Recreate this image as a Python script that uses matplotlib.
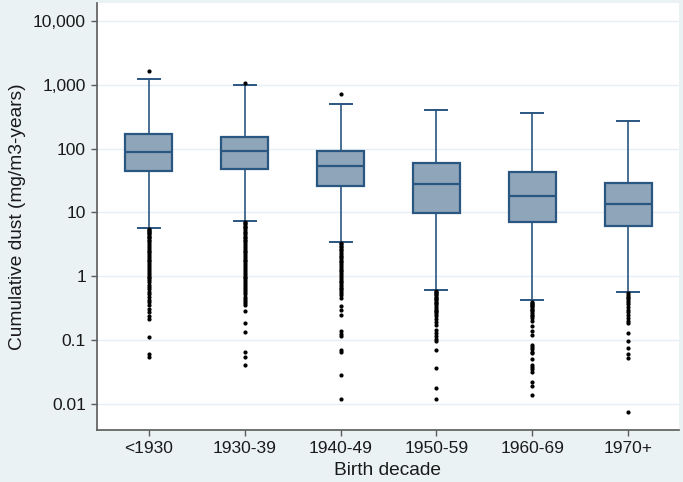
import matplotlib
matplotlib.use("Agg")
import matplotlib.pyplot as plt
from matplotlib.ticker import FixedLocator, NullLocator

plt.rcParams['font.family'] = ['Liberation Sans', 'DejaVu Sans']

categories = ["<1930", "1930-39", "1940-49", "1950-59", "1960-69", "1970+"]
q1 = [45.0, 47.5, 25.5, 9.75, 6.98, 6.17]
medians = [87.5, 92.0, 53.5, 27.4, 18.2, 13.3]
q3 = [171.0, 154.0, 90.8, 58.3, 43.0, 28.7]
whisker_low = [5.7, 7.3, 3.43, 0.60, 0.416, 0.555]
whisker_high = [1210.0, 1000.0, 492.0, 401.0, 360.0, 267.0]

outliers_1 = [1620, 5.5, 5.3, 5.1, 4.9, 4.7, 4.5, 4.3, 4.1, 3.9, 3.7, 3.5, 3.3, 3.1, 2.9,
              2.7, 2.5, 2.35, 2.2, 2.05, 1.9, 1.8, 1.7, 1.6, 1.5, 1.4, 1.3, 1.2, 1.12,
              1.05, 0.98, 0.92, 0.86, 0.8, 0.74, 0.68, 0.62, 0.57, 0.52, 0.47, 0.43,
              0.39, 0.35, 0.31, 0.27, 0.24, 0.21, 0.111, 0.061, 0.055]
outliers_2 = [1060, 7.1, 6.8, 6.5, 6.2, 5.9, 5.6, 5.3, 5.0, 4.7, 4.4, 4.1, 3.9, 3.7, 3.5,
              3.3, 3.1, 2.9, 2.7, 2.5, 2.35, 2.2, 2.05, 1.9, 1.8, 1.7, 1.6, 1.5, 1.4,
              1.3, 1.2, 1.12, 1.05, 0.98, 0.92, 0.86, 0.8, 0.75, 0.7, 0.65, 0.6, 0.56,
              0.52, 0.48, 0.44, 0.41, 0.38, 0.356, 0.28, 0.188, 0.135, 0.066, 0.054,
              0.041]
outliers_3 = [713, 3.3, 3.15, 3.0, 2.85, 2.7, 2.55, 2.4, 2.25, 2.1, 1.98, 1.86, 1.75,
              1.64, 1.54, 1.45, 1.36, 1.27, 1.19, 1.11, 1.04, 0.97, 0.91, 0.85, 0.8,
              0.75, 0.7, 0.66, 0.62, 0.58, 0.54, 0.5, 0.46, 0.335, 0.30, 0.25, 0.136,
              0.125, 0.114, 0.069, 0.064, 0.028, 0.012]
outliers_4 = [0.58, 0.56, 0.54, 0.52, 0.5, 0.48, 0.46, 0.44, 0.42, 0.4, 0.38, 0.36, 0.34,
              0.32, 0.3, 0.285, 0.27, 0.255, 0.24, 0.21, 0.19, 0.17, 0.145, 0.13, 0.115,
              0.105, 0.095, 0.069, 0.037, 0.018, 0.012]
outliers_5 = [0.40, 0.385, 0.37, 0.355, 0.34, 0.325, 0.31, 0.295, 0.28, 0.265, 0.25,
              0.235, 0.22, 0.2, 0.163, 0.14, 0.118, 0.084, 0.078, 0.072, 0.066, 0.063,
              0.05, 0.041, 0.038, 0.035, 0.031, 0.022, 0.019, 0.014]
outliers_6 = [0.54, 0.51, 0.48, 0.45, 0.42, 0.39, 0.36, 0.33, 0.3, 0.27, 0.25, 0.22,
              0.2, 0.184, 0.128, 0.095, 0.075, 0.061, 0.052, 0.0074]
outliers = [outliers_1, outliers_2, outliers_3, outliers_4, outliers_5, outliers_6]

ytick_values = [0.01, 0.1, 1, 10, 100, 1000, 10000]
ytick_labels = ["0.01", "0.1", "1", "10", "100", "1,000", "10,000"]

x_label = "Birth decade"
y_label = "Cumulative dust (mg/m3-years)"

line_col = "#2a5682"
fill_col = "#8fa5b9"
bg_col = "#ebf2f4"
grid_col = "#e6eff3"

stats = []
for i, c in enumerate(categories):
    stats.append(dict(label=c, q1=q1[i], med=medians[i], q3=q3[i],
                      whislo=whisker_low[i], whishi=whisker_high[i],
                      fliers=outliers[i]))

fig = plt.figure(figsize=(6.83, 4.82), dpi=100, facecolor=bg_col)
ax = fig.add_axes([97 / 683, 1 - 430 / 482, (679 - 97) / 683, (430 - 3) / 482])
ax.set_facecolor("white")

positions = list(range(1, len(categories) + 1))
ax.bxp(stats, positions=positions, widths=0.49, capwidths=0.23,
       patch_artist=True, showfliers=True,
       boxprops=dict(facecolor=fill_col, edgecolor=line_col, linewidth=1.6),
       medianprops=dict(color=line_col, linewidth=1.6),
       whiskerprops=dict(color=line_col, linewidth=1.2),
       capprops=dict(color=line_col, linewidth=1.4),
       flierprops=dict(marker='o', markerfacecolor='black', markeredgecolor='black',
                       markersize=2.0, linestyle='none'))

ax.set_yscale('log')
ax.set_ylim(10 ** -2.41, 10 ** 4.28)
ax.set_xlim(0.46, 6.53)

ax.yaxis.set_major_locator(FixedLocator(ytick_values))
ax.set_yticklabels(ytick_labels)
ax.yaxis.set_minor_locator(NullLocator())
ax.set_xticks(positions)
ax.set_xticklabels(categories)

ax.grid(axis='y', color=grid_col, linewidth=1.0)
ax.set_axisbelow(True)

for s in ['top', 'right']:
    ax.spines[s].set_visible(False)
for s in ['left', 'bottom']:
    ax.spines[s].set_color('#5a5a5a')
    ax.spines[s].set_linewidth(1.2)

ax.tick_params(axis='both', colors='#5a5a5a', length=4, width=1.0, labelsize=12.5,
               labelcolor='#1a1a1a', pad=4)

ax.set_xlabel(x_label, fontsize=13.8, color='#1a1a1a', labelpad=4)
ax.set_ylabel(y_label, fontsize=13.8, color='#1a1a1a', labelpad=5)

fig.savefig("out.png", dpi=100, facecolor=bg_col)
